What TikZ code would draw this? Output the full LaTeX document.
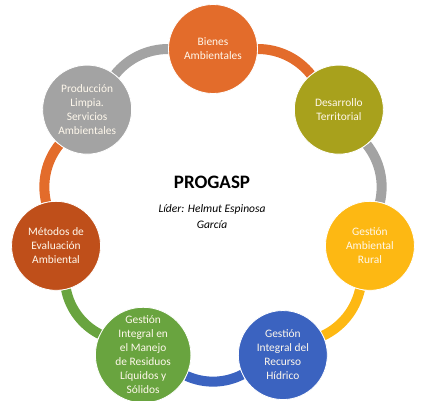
\documentclass[tikz,border=0pt]{standalone}
\usepackage{fontspec}
\setmainfont{Carlito}
\usetikzlibrary{calc}
\definecolor{cOrange}{HTML}{E36C2B}
\definecolor{cOlive}{HTML}{A8A11C}
\definecolor{cGray}{HTML}{A3A3A3}
\definecolor{cRust}{HTML}{BF4F1A}
\definecolor{cGold}{HTML}{FDB813}
\definecolor{cBlue}{HTML}{3B63C0}
\definecolor{cGreen}{HTML}{69A43F}
\definecolor{cText}{HTML}{FFF8EC}
\pgfdeclarelayer{bg}
\pgfsetlayers{bg,main}
\begin{document}
\begin{tikzpicture}[x=1pt,y=1pt,
  blob/.style={circle, minimum size=89pt, inner sep=0pt, draw=white, line width=0.8pt,
    text=cText, align=center, font=\fontsize{11.4}{14}\selectfont},
  ring/.style={line width=10pt, bend left=25.71, looseness=0.9}]
\useasboundingbox (0,0) rectangle (424,400);
\coordinate (c) at (213,190);
\node[blob, fill=cOrange] (bienes) at ($(c)+(90:161)$) {Bienes\\Ambientales};
\node[blob, fill=cOlive] (desarrollo) at ($(c)+(38.57:161)$) {Desarrollo\\Territorial};
\node[blob, fill=cGold] (rural) at ($(c)+(-12.86:161)$) {Gestión\\Ambiental\\Rural};
\node[blob, fill=cBlue] (hidrico) at ($(c)+(-64.29:161)$) {Gestión\\Integral del\\Recurso\\Hídrico};
\node[blob, fill=cGreen] (manejo) at ($(c)+(-115.71:161)$) {Gestión\\Integral en\\el Manejo\\de Residuos\\Líquidos y\\Sólidos};
\node[blob, fill=cRust] (metodos) at ($(c)+(-167.14:161)$) {Métodos de\\Evaluación\\Ambiental};
\node[blob, fill=cGray] (produccion) at ($(c)+(141.43:161)$) {Producción\\Limpia.\\Servicios\\Ambientales};
\begin{pgfonlayer}{bg}
\draw[ring, cOrange] (bienes) to (desarrollo);
\draw[ring, cGray] (desarrollo) to (rural);
\draw[ring, cGold] (rural) to (hidrico);
\draw[ring, cBlue] (hidrico) to (manejo);
\draw[ring, cGreen] (manejo) to (metodos);
\draw[ring, cOrange] (metodos) to (produccion);
\draw[ring, cGray] (produccion) to (bienes);
\end{pgfonlayer}
\node[font=\fontsize{19}{22}\selectfont\bfseries] (title) at (212,218) {PROGASP};
\node[font=\fontsize{11.5}{16}\selectfont\itshape, align=center] (leader) at (212,183) {Líder: Helmut Espinosa\\García};
\end{tikzpicture}
\end{document}
